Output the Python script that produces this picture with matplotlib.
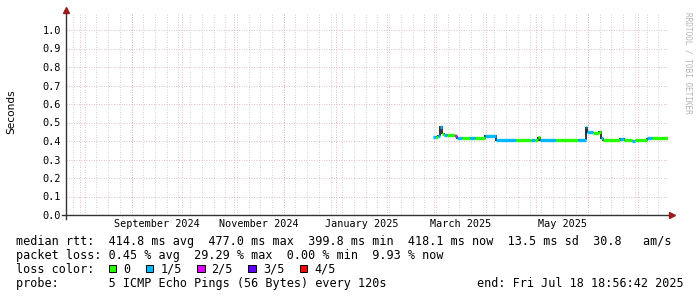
# smokeping style latency graph, last 360 days

import matplotlib
matplotlib.use("Agg")
import matplotlib.pyplot as plt
import matplotlib.dates as mdates
from matplotlib.patches import Rectangle
import pandas as pd

W, H = 697, 297

# median rtt (seconds), drawn as steps; loss level = lost pings out of 5
seg_start = ["2025-02-28 00:00", "2025-03-02 00:00", "2025-03-03 12:00", "2025-03-04 12:00",
             "2025-03-05 12:00", "2025-03-07 00:00", "2025-03-08 12:00", "2025-03-13 12:00",
             "2025-03-14 12:00", "2025-03-17 12:00", "2025-03-22 12:00", "2025-03-25 12:00",
             "2025-03-31 12:00", "2025-04-07 00:00", "2025-04-19 00:00", "2025-04-28 00:00",
             "2025-04-30 00:00", "2025-05-02 00:00", "2025-05-03 00:00", "2025-05-13 00:00",
             "2025-05-26 00:00", "2025-05-30 18:00", "2025-05-31 12:00", "2025-06-03 18:00",
             "2025-06-07 06:00", "2025-06-08 12:00", "2025-06-10 00:00", "2025-06-20 00:00",
             "2025-06-22 12:00", "2025-06-27 00:00", "2025-06-29 00:00", "2025-07-06 06:00",
             "2025-07-09 06:00", "2025-07-15 00:00"]
seg_rtt = [0.422, 0.424, 0.428, 0.477,
           0.440, 0.434, 0.431, 0.425,
           0.416, 0.416, 0.417, 0.416,
           0.427, 0.405, 0.404, 0.405,
           0.404, 0.419, 0.404, 0.405,
           0.406, 0.474, 0.446, 0.444,
           0.450, 0.415, 0.403, 0.412,
           0.403, 0.402, 0.403, 0.414,
           0.416, 0.418]
seg_loss = [1, 0, 1, 1,
            0, 1, 0, 2,
            1, 0, 1, 0,
            1, 1, 0, 1,
            0, 0, 1, 0,
            1, 1, 1, 0,
            0, 1, 0, 1,
            0, 1, 0, 1,
            0, 0]

graph_end = pd.Timestamp("2025-07-18 18:56:42")
graph_start = graph_end - pd.Timedelta(days=360)

loss_labels = ["0", "1/5", "2/5", "3/5", "4/5"]
loss_colors = ["#26ff00", "#00b8ff", "#dd00ff", "#5e00ff", "#ff0000"]

y_ticks = [0.0, 0.1, 0.2, 0.3, 0.4, 0.5, 0.6, 0.7, 0.8, 0.9, 1.0]
month_labels = ["September 2024", "November 2024", "January 2025", "March 2025", "May 2025"]
month_label_at = ["2024-09-01", "2024-11-01", "2025-01-01", "2025-03-01", "2025-05-01"]

line_rtt = "median rtt:  414.8 ms avg  477.0 ms max  399.8 ms min  418.1 ms now  13.5 ms sd  30.8   am/s"
line_loss = "packet loss: 0.45 % avg  29.29 % max  0.00 % min  9.93 % now"
line_probe = "probe:       5 ICMP Echo Pings (56 Bytes) every 120s"
end_text = "end: Fri Jul 18 18:56:42 2025"

plt.rcParams["font.family"] = "DejaVu Sans Mono"


def fx(x):
    return x / W


def fy(y):
    return 1 - y / H


fig = plt.figure(figsize=(W / 100, H / 100), dpi=100)
# plot area: x 66..668 px, y 13..215 px
ax = fig.add_axes([fx(66), fy(215), (668 - 66) / W, (215 - 13) / H])
ax.set_xlim(mdates.date2num(graph_start), mdates.date2num(graph_end))
ax.set_ylim(0, 202 / 185)
for s in ax.spines.values():
    s.set_visible(False)

dot = (0, (1, 2))
# weekly minor grid (sundays), monthly major grid, horizontal grid
for d in pd.date_range(graph_start.normalize(), graph_end, freq="W-SUN"):
    ax.axvline(mdates.date2num(d), color="#c4c4c4", lw=0.6, ls=dot, zorder=1)
for d in pd.date_range(graph_start.normalize(), graph_end, freq="MS"):
    ax.axvline(mdates.date2num(d), color="#e8a0a0", lw=0.6, ls=dot, zorder=1.5)
for v in y_ticks[1:]:
    ax.axhline(v, color="#d8a8a8", lw=0.6, ls=dot, zorder=1.5)

# median line
starts = mdates.date2num(pd.to_datetime(seg_start))
ends = list(starts[1:]) + [mdates.date2num(graph_end)]
ax.hlines(seg_rtt, starts, ends, colors=[loss_colors[l] for l in seg_loss],
          lw=2.4, zorder=3)
for i in range(1, len(seg_rtt)):
    lo, hi = sorted([seg_rtt[i - 1], seg_rtt[i]])
    ax.vlines(starts[i], lo - 0.003, hi + 0.003, colors="#222222", lw=1.3, zorder=2.5)

# axes with arrows
axis_col = "#333333"
arrow_col = "#9b1c1c"
ax.plot([-4 / 602, 1.004], [0, 0], color=axis_col, lw=1.0, transform=ax.transAxes,
        clip_on=False, zorder=4)
ax.plot([0, 0], [-4 / 202, 1.008], color=axis_col, lw=1.0, transform=ax.transAxes,
        clip_on=False, zorder=4)
ax.plot(1.007, 0, marker=">", ms=4, color=arrow_col, mec=arrow_col,
        transform=ax.transAxes, clip_on=False, zorder=5)
ax.plot(0, 1.014, marker="^", ms=4, color=arrow_col, mec=arrow_col,
        transform=ax.transAxes, clip_on=False, zorder=5)

ax.set_xticks([])
ax.set_yticks(y_ticks)
ax.set_yticklabels([f"{v:.1f}" for v in y_ticks])
ax.tick_params(axis="y", length=0, pad=3.8, labelsize=7.4)

# month labels centred in the month
for lab, m in zip(month_labels, month_label_at):
    m0 = pd.Timestamp(m)
    mid = m0 + (m0 + pd.offsets.MonthBegin(1) - m0) / 2
    ax.text(mdates.date2num(mid), -12.3 / 202, lab, transform=ax.get_xaxis_transform(),
            ha="center", va="baseline", fontsize=7.3)

fig.text(fx(11), fy(112), "Seconds", rotation=90, ha="center", va="center",
         fontsize=7.6, family="DejaVu Sans")
fig.text(fx(688), fy(12), "RRDTOOL / TOBI OETIKER", rotation=270, ha="center",
         va="top", fontsize=5.6, color="#b4b4b4")

# legend block
fs = 8.47
fig.text(fx(16), fy(244.7), line_rtt, fontsize=fs, va="baseline")
fig.text(fx(16), fy(258.7), line_loss, fontsize=fs, va="baseline")
fig.text(fx(16), fy(272.7), "loss color:", fontsize=fs, va="baseline")
x = 108.7
for lab, col in zip(loss_labels, loss_colors):
    fig.patches.append(Rectangle((fx(x), fy(272.3)), 7.5 / W, 7.5 / H, facecolor=col,
                                 edgecolor="black", lw=0.7, transform=fig.transFigure))
    fig.text(fx(x + 14.5), fy(272.7), lab, fontsize=fs, va="baseline")
    x += 14.5 + len(lab) * 7.08 + 15.5
fig.text(fx(16), fy(286.7), line_probe, fontsize=fs, va="baseline")
fig.text(fx(477), fy(286.7), end_text, fontsize=fs, va="baseline")

fig.savefig("out.png", dpi=100)
